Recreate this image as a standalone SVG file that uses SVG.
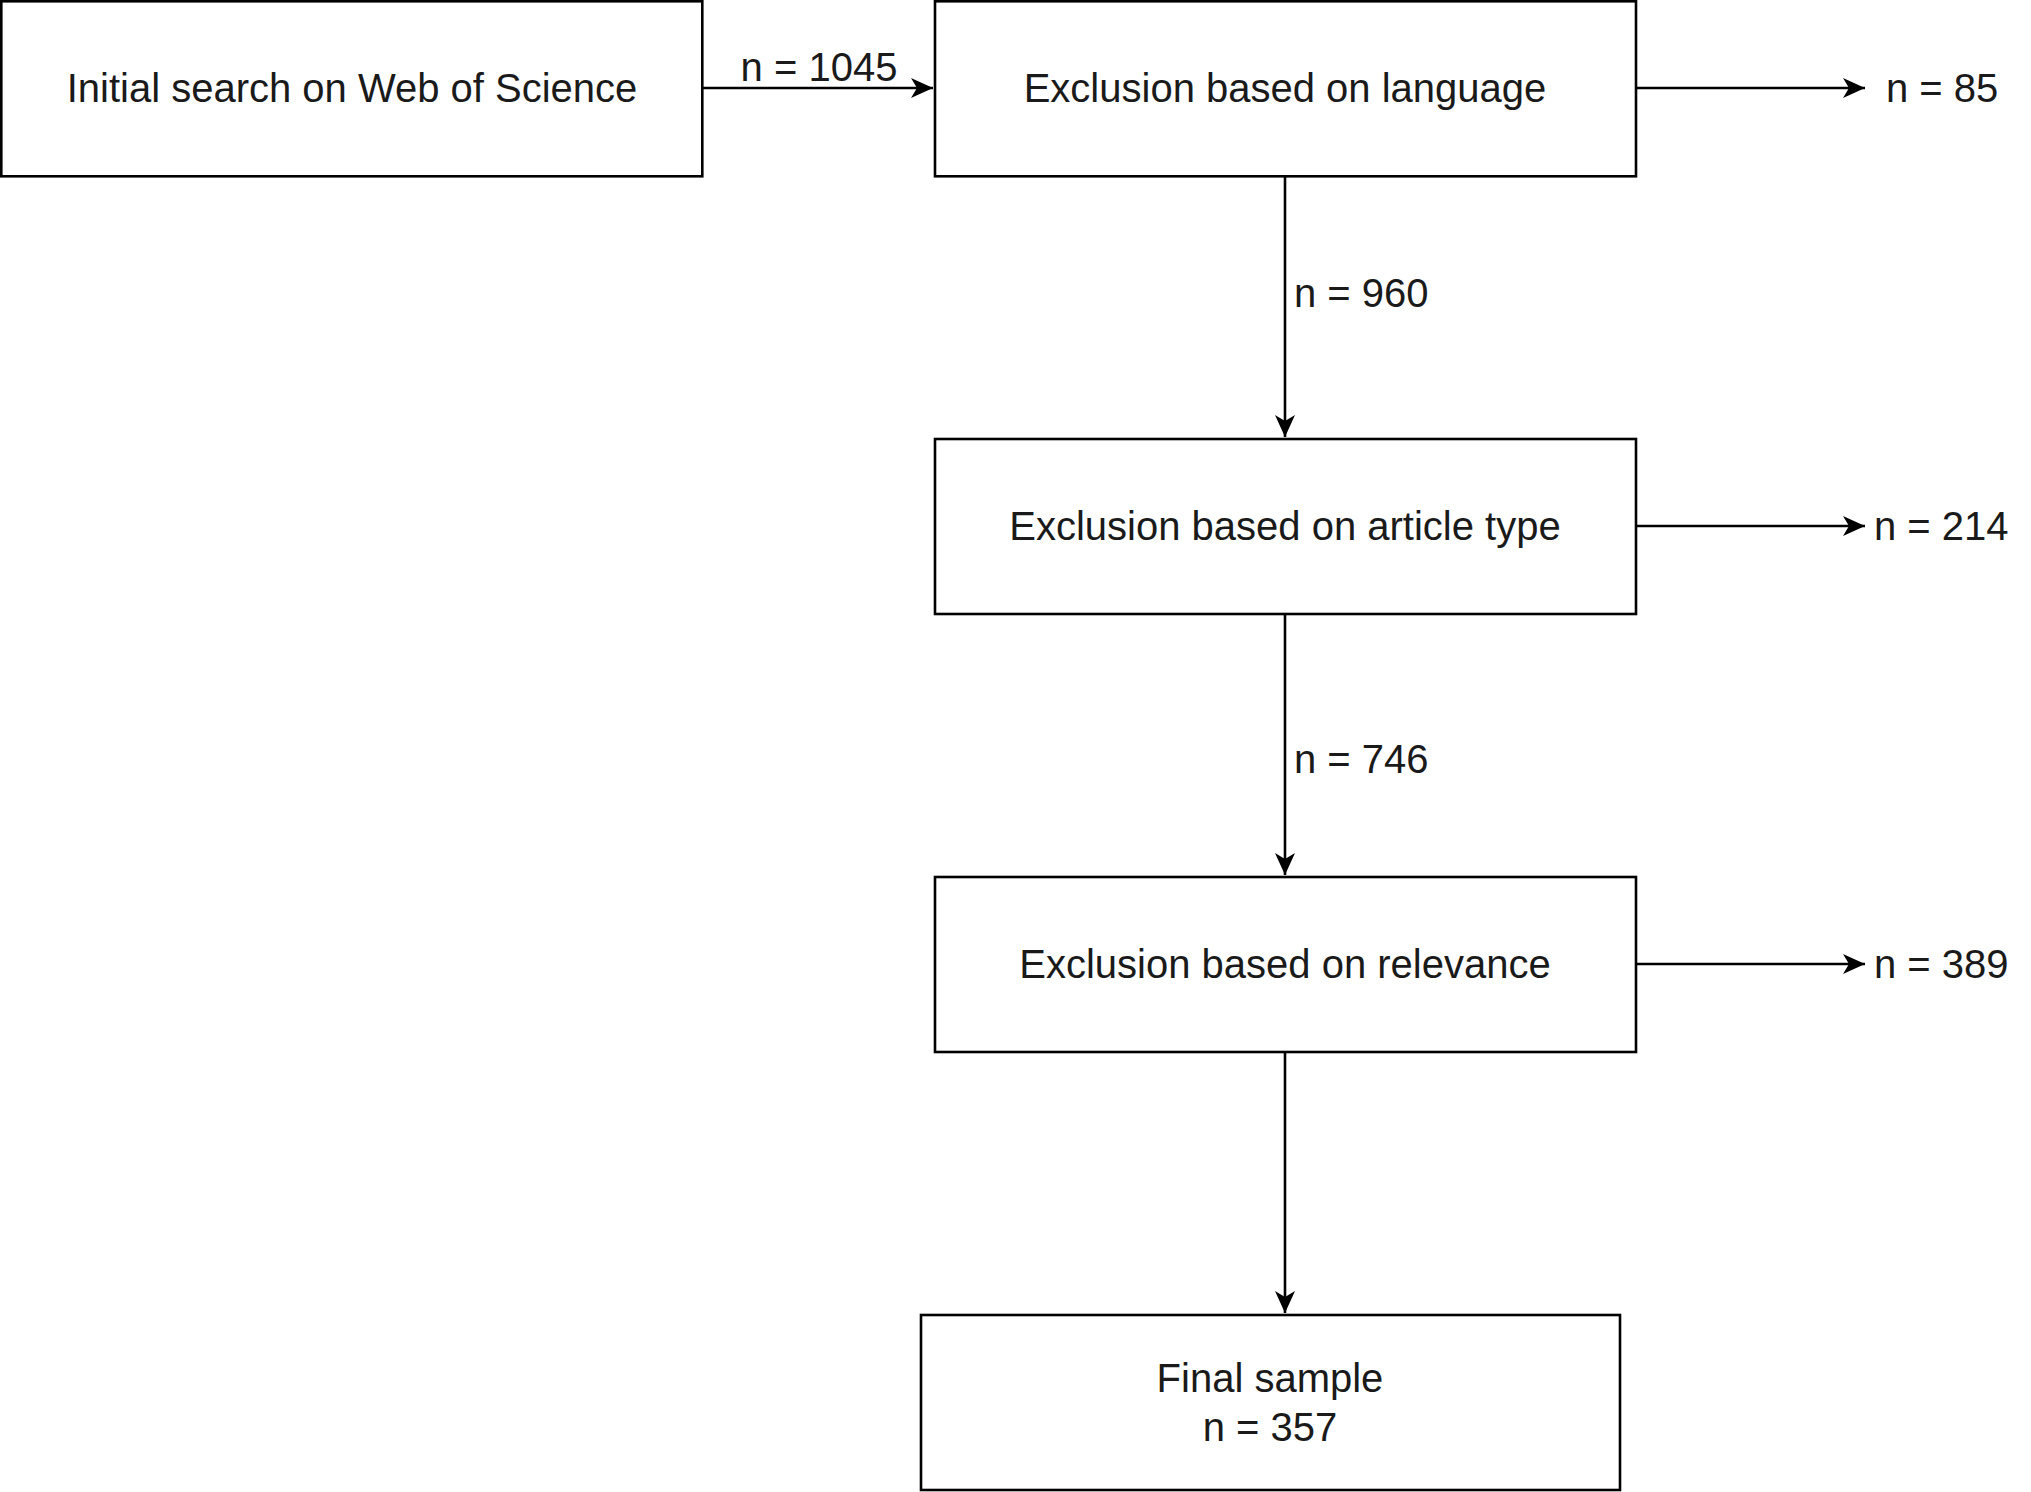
<svg xmlns="http://www.w3.org/2000/svg" width="2031" height="1492" viewBox="0 0 2031 1492">
<style>
.box{fill:#fff;stroke:#000;stroke-width:2.6}
.t{font-family:"Liberation Sans",Arial,sans-serif;font-size:40px;fill:#1a1a1a;dominant-baseline:central}
.c{text-anchor:middle}
.e{stroke:#000;stroke-width:2.6;fill:none;marker-end:url(#a)}
</style>
<defs><marker id="a" markerUnits="userSpaceOnUse" markerWidth="24" markerHeight="24" refX="22" refY="10" orient="auto"><path d="M0,0 L22,10 L0,20 L6,10 Z" fill="#000"/></marker></defs>
<rect width="2031" height="1492" fill="#fff"/>
<g id="edges">
<path class="e" d="M702,88 H933"/>
<path class="e" d="M1636,88 H1865"/>
<path class="e" d="M1285,176 V437"/>
<path class="e" d="M1636,526 H1865"/>
<path class="e" d="M1285,614 V875"/>
<path class="e" d="M1636,964 H1865"/>
<path class="e" d="M1285,1052 V1313"/>
<text class="t c" x="819" y="67">n = 1045</text>
<text class="t" x="1886" y="88">n = 85</text>
<text class="t" x="1294" y="293">n = 960</text>
<text class="t" x="1874" y="526">n = 214</text>
<text class="t" x="1294" y="759">n = 746</text>
<text class="t" x="1874" y="964">n = 389</text>
</g>
<g id="n1"><rect class="box" x="1.3" y="1.3" width="701" height="175"/><text class="t c" x="352" y="88">Initial search on Web of Science</text></g>
<g id="n2"><rect class="box" x="935" y="1.3" width="701" height="175"/><text class="t c" x="1285" y="88">Exclusion based on language</text></g>
<g id="n3"><rect class="box" x="935" y="439" width="701" height="175"/><text class="t c" x="1285" y="526">Exclusion based on article type</text></g>
<g id="n4"><rect class="box" x="935" y="877" width="701" height="175"/><text class="t c" x="1285" y="964">Exclusion based on relevance</text></g>
<g id="n5"><rect class="box" x="921" y="1315" width="699" height="175"/><text class="t c" x="1270" y="1378">Final sample</text><text class="t c" x="1270" y="1427">n = 357</text></g>
</svg>
